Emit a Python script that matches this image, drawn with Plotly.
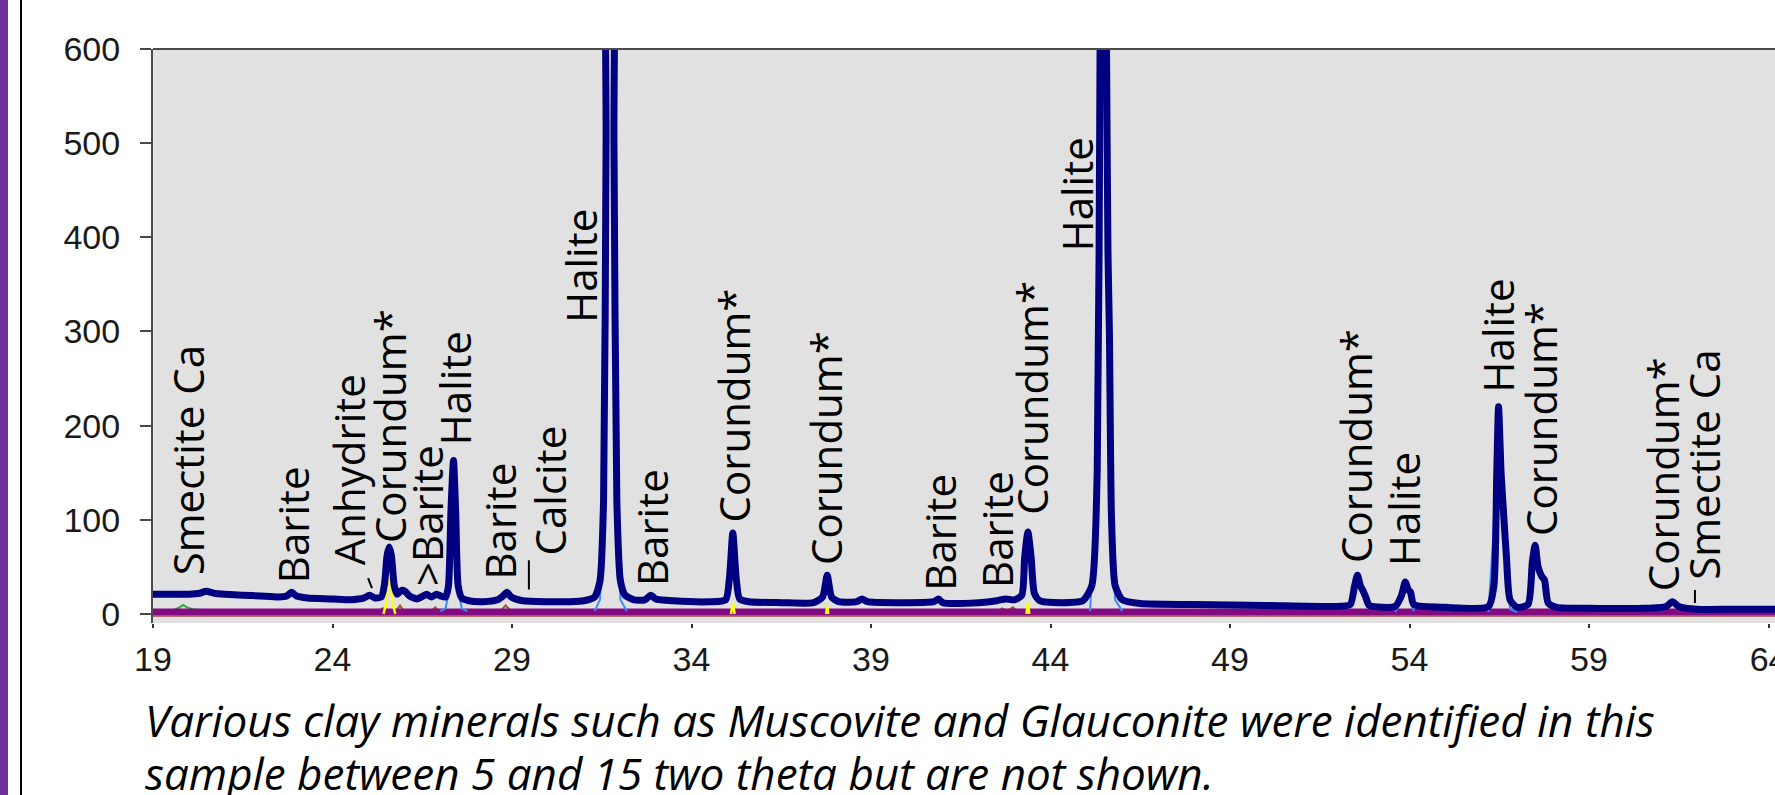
import plotly.graph_objects as go

# ---------------- data ----------------
two_theta_obs = [19.0, 19.5, 20.0, 20.3, 20.48, 20.7, 21.0, 21.5, 22.0, 22.5, 22.72, 22.86, 23.0, 23.3,
                 24.0, 24.5, 24.88, 25.03, 25.18, 25.36, 25.45, 25.52, 25.58, 25.64, 25.72, 25.8, 25.92,
                 26.02, 26.15, 26.35, 26.52, 26.62, 26.75, 26.9, 27.02, 27.15, 27.23, 27.3, 27.37, 27.43,
                 27.5, 27.6, 27.8, 28.2, 28.6, 28.75, 28.86, 28.98, 29.3, 30.0, 30.6, 31.0, 31.3, 31.45,
                 31.55, 31.62, 31.68, 31.78, 31.84, 31.92, 32.02, 32.15, 32.4, 32.7, 32.87, 33.0, 33.5,
                 34.5, 34.95, 35.06, 35.15, 35.24, 35.34, 35.6, 36.5, 37.4, 37.65, 37.78, 37.9, 38.1,
                 38.6, 38.75, 38.9, 40.0, 40.75, 40.88, 41.0, 42.0, 42.5, 42.75, 43.0, 43.2, 43.28, 43.37,
                 43.46, 43.55, 43.7, 44.3, 44.9, 45.15, 45.3, 45.38, 45.44, 45.52, 45.56, 45.6, 45.64,
                 45.7, 45.8, 46.0, 46.5, 48.0, 50.0, 52.0, 52.35, 52.47, 52.55, 52.63, 52.7, 52.78, 52.88,
                 53.6, 53.78, 53.88, 53.96, 54.03, 54.12, 55.0, 56.2, 56.35, 56.43, 56.48, 56.55, 56.62,
                 56.7, 56.8, 57.0, 57.3, 57.42, 57.5, 57.58, 57.68, 57.76, 57.86, 58.1, 59.0, 60.5, 61.15,
                 61.32, 61.5, 62.0, 63.0, 64.3]
counts_obs = [21, 21, 21, 22, 24, 22, 21, 20, 19, 18, 19, 23, 19, 17,
              16, 15, 17, 20, 17, 18, 32, 62, 71, 62, 30, 21, 25,
              24, 19, 16, 19, 21, 18, 21, 19, 18, 30, 110, 163, 110,
              30, 17, 14, 13, 15, 19, 23, 18, 14, 13, 13, 14, 18, 35,
              120, 500, 900, 900, 500, 120, 35, 20, 15, 15, 20, 16, 14,
              13, 15, 40, 86, 40, 16, 13, 12, 12, 18, 41, 18, 13,
              13, 16, 13, 12, 13, 16, 12, 12, 14, 16, 15, 20, 60, 87,
              60, 22, 14, 12, 14, 30, 150, 600, 900, 900, 600, 385, 300,
              100, 30, 15, 11, 10, 9, 8, 10, 30, 41, 30, 25, 18, 9,
              8, 20, 34, 26, 23, 10, 7, 8, 30, 150, 220, 150, 107,
              60, 15, 7, 10, 55, 73, 50, 40, 36, 12, 7, 6, 6, 8,
              13, 8, 5, 5, 5]

# Halite phase profile (light blue)
two_theta_halite = [27.0, 27.15, 27.25, 27.3, 27.37, 27.43, 27.5, 27.6, 27.75, None,
                    31.3, 31.45, 31.55, 31.62, 31.68, 31.78, 31.84, 31.92, 32.02, 32.2, None,
                    45.1, 45.3, 45.38, 45.44, 45.52, 45.56, 45.6, 45.7, 45.8, 46.0, None,
                    53.6, 53.78, 53.88, 53.96, 54.12, None,
                    56.2, 56.43, 56.48, 56.55, 56.62, 56.8, 57.0]
counts_halite = [3, 6, 25, 110, 160, 110, 25, 6, 3, None,
                 3, 15, 110, 500, 900, 900, 500, 110, 15, 3, None,
                 3, 140, 600, 900, 900, 600, 380, 95, 15, 3, None,
                 2, 15, 30, 22, 3, None,
                 2, 145, 215, 145, 100, 5, 2]

# Corundum phase profile (yellow)
two_theta_corundum = [25.42, 25.5, 25.55, 25.58, 25.62, 25.67, 25.75, None,
                      35.1, 35.15, 35.2, None,
                      37.75, 37.78, 37.81, None,
                      43.33, 43.37, 43.41]
counts_corundum = [0, 12, 45, 55, 45, 12, 0, None,
                   0, 12, 0, None,
                   0, 8, 0, None,
                   0, 12, 0]

# Barite phase profile (brown)
two_theta_barite = [25.25, 25.4, 25.55, None, 25.75, 25.88, 26.0, None, 26.72, 26.86, 27.0, None,
                    28.65, 28.82, 29.0, None, 42.5, 42.65, 42.8, 42.95, 43.1]
counts_barite = [2, 6, 2, None, 2, 9, 2, None, 2, 7, 2, None,
                 2, 9, 2, None, 2, 6, 3, 7, 2]

# Smectite Ca phase profile (green)
two_theta_smectite = [19.55, 19.7, 19.84, 19.95, 20.1, 20.4]
counts_smectite = [4, 6, 9.5, 7, 5, 4]

# Background profile (purple)
two_theta_bg = [19.0, 64.3]
counts_bg = [2, 2]

# Peak labels
label_text = ["Smectite Ca", "Barite", "Anhydrite", "Corundum*", ">Barite", "Halite", "Barite",
              "Calcite", "Halite", "Barite", "Corundum*", "Corundum*", "Barite", "Barite",
              "Corundum*", "Halite", "Corundum*", "Halite", "Halite", "Corundum*", "Corundum*",
              "Smectite Ca"]
label_x = [19.95, 22.87, 24.43, 25.57, 26.60, 27.38, 28.64, 30.03, 30.92, 32.87, 35.18, 37.75,
           40.92, 42.51, 43.48, 44.71, 52.48, 53.85, 56.46, 57.64, 61.03, 62.2]
label_y = [39, 31, 50, 73, 28, 177, 34, 60, 307, 28, 95, 50, 23, 25, 103, 383, 52, 49, 233, 81,
           22, 34]

# Leader marks next to some labels (x0, y0, x1, y1)
leader_x0 = [24.99, 29.47, 61.95]
leader_y0 = [38, 57, 25.5]
leader_x1 = [25.10, 29.47, 61.95]
leader_y1 = [27.5, 26, 11.7]

x_ticks = [19, 24, 29, 34, 39, 44, 49, 54, 59, 64]
y_ticks = [0, 100, 200, 300, 400, 500, 600]

caption_lines = ["Various clay minerals such as Muscovite and Glauconite were identified in this",
                 "sample between 5 and 15 two theta but are not shown."]

# ---------------- figure ----------------
W, H = 1775, 795
ML, MT, MR, MB = 153, 49, 0, 172
PW, PH = W - ML - MR, H - MT - MB

def px2paperx(px):
    return (px - ML) / PW

def py2papery(py):
    return (H - MB - py) / PH

fig = go.Figure()

fig.add_trace(go.Scatter(x=two_theta_smectite, y=counts_smectite, mode="lines",
                         line=dict(color="#33AA33", width=2), hoverinfo="skip"))
fig.add_trace(go.Scatter(x=two_theta_barite, y=counts_barite, mode="lines",
                         line=dict(color="#9A5A1A", width=2), hoverinfo="skip"))
fig.add_trace(go.Scatter(x=two_theta_bg, y=[-2.4, -2.4], mode="lines",
                         line=dict(color="#A04848", width=1.2), hoverinfo="skip"))
fig.add_trace(go.Scatter(x=two_theta_bg, y=counts_bg, mode="lines",
                         line=dict(color="#820A82", width=7), hoverinfo="skip"))
fig.add_trace(go.Scatter(x=two_theta_corundum, y=counts_corundum, mode="lines",
                         line=dict(color="#FFFF00", width=2.5), hoverinfo="skip"))
fig.add_trace(go.Scatter(x=two_theta_halite, y=counts_halite, mode="lines",
                         line=dict(color="#3D8BFF", width=2), hoverinfo="skip"))
fig.add_trace(go.Scatter(x=two_theta_obs, y=counts_obs, mode="lines",
                         line=dict(color="#000080", width=7, shape="spline", smoothing=0.6),
                         hoverinfo="skip"))

for t, x, y in zip(label_text, label_x, label_y):
    fig.add_annotation(x=x, y=y, xref="x", yref="y", text=t, textangle=-90,
                       showarrow=False, xanchor="center", yanchor="bottom",
                       font=dict(family="Open Sans", size=42, color="#000000"))

shapes = []
for x0, y0, x1, y1 in zip(leader_x0, leader_y0, leader_x1, leader_y1):
    shapes.append(dict(type="line", xref="x", yref="y", x0=x0, y0=y0, x1=x1, y1=y1,
                       line=dict(color="#000000", width=2)))
# top border of plot area
shapes.append(dict(type="line", xref="paper", yref="paper", x0=0, x1=1, y0=1, y1=1,
                   line=dict(color="#4A4A4A", width=2)))
# slide decorations at left
shapes.append(dict(type="rect", xref="paper", yref="paper",
                   x0=px2paperx(0), x1=px2paperx(8), y0=py2papery(H), y1=py2papery(0),
                   fillcolor="#7030A0", line=dict(width=0)))
shapes.append(dict(type="line", xref="paper", yref="paper",
                   x0=px2paperx(21), x1=px2paperx(21), y0=py2papery(H), y1=py2papery(0),
                   line=dict(color="#000000", width=2)))

for i, line in enumerate(caption_lines):
    fig.add_annotation(x=px2paperx(143), y=py2papery(720 + 53 * i), xref="paper", yref="paper",
                       text=f"<i>{line}</i>", showarrow=False, xanchor="left", yanchor="middle",
                       font=dict(family="Open Sans", size=44, color="#000000"))

fig.update_layout(
    width=W, height=H, autosize=False,
    margin=dict(l=ML, r=MR, t=MT, b=MB, pad=0, autoexpand=False),
    paper_bgcolor="#FFFFFF", plot_bgcolor="#E1E1E1",
    showlegend=False,
    shapes=shapes,
)
fig.update_xaxes(range=[19, 64.18], tickvals=x_ticks, ticktext=[str(v) for v in x_ticks],
                 showgrid=False, zeroline=False, showline=False, automargin=False,
                 ticks="outside", ticklen=4, tickwidth=2, tickcolor="#333333",
                 ticklabelstandoff=2, ticklabeloverflow="allow",
                 tickfont=dict(family="Liberation Sans", size=34, color="#1A1A1A"))
fig.update_yaxes(range=[-9.6, 600], tickvals=y_ticks, ticktext=[str(v) for v in y_ticks],
                 showgrid=False, zeroline=False, showline=True, linecolor="#4A4A4A", linewidth=2,
                 automargin=False,
                 ticks="outside", ticklen=11, tickwidth=2, tickcolor="#4A4A4A",
                 ticklabelstandoff=13,
                 tickfont=dict(family="Liberation Sans", size=34, color="#1A1A1A"))

fig.write_html("out.html")
